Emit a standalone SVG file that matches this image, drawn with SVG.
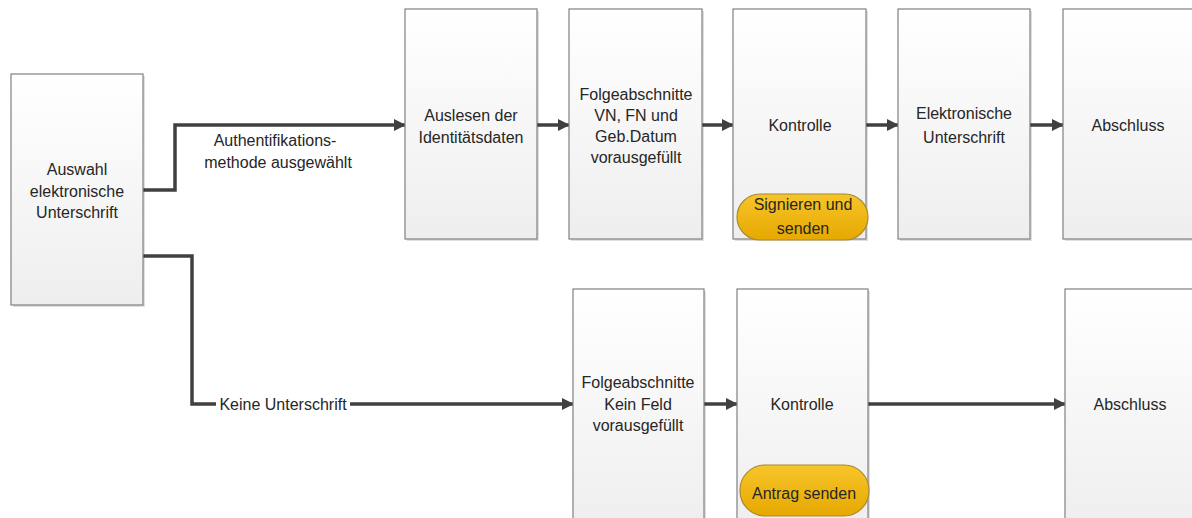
<svg xmlns="http://www.w3.org/2000/svg" width="1192" height="518" viewBox="0 0 1192 518">
<style>
.box{fill:url(#gBox);stroke:#808080;stroke-width:1.2}
.sh{fill:#000;opacity:0.12}
.pill{fill:url(#gGold);stroke:#a88a30;stroke-width:1.2}
.t{font-family:"Liberation Sans",Arial,sans-serif;font-size:16px;fill:#262626;text-anchor:middle}
.c{fill:none;stroke:#404040;stroke-width:3.5}
</style>
<defs>
<linearGradient id="gBox" x1="0" y1="0" x2="0" y2="1">
<stop offset="0" stop-color="#ffffff"/>
<stop offset="1" stop-color="#eeeeee"/>
</linearGradient>
<linearGradient id="gGold" x1="0" y1="0" x2="0" y2="1">
<stop offset="0" stop-color="#f7c52a"/>
<stop offset="1" stop-color="#e6a800"/>
</linearGradient>
<marker id="ah" viewBox="0 0 12 12" refX="11" refY="6" markerWidth="12" markerHeight="12" markerUnits="userSpaceOnUse" orient="auto">
<path d="M0,0 L12,6 L0,12 Z" fill="#404040"/>
</marker>
</defs>
<rect width="1192" height="518" fill="#ffffff"/>

<g id="connectors">
<polyline class="c" points="143,190 175,190 175,125 405,125" marker-end="url(#ah)"/>
<polyline class="c" points="143,256 192,256 192,404 573,404" marker-end="url(#ah)"/>
<line class="c" x1="537" y1="125" x2="569" y2="125" marker-end="url(#ah)"/>
<line class="c" x1="702" y1="125" x2="733" y2="125" marker-end="url(#ah)"/>
<line class="c" x1="866" y1="125" x2="898" y2="125" marker-end="url(#ah)"/>
<line class="c" x1="1030" y1="125" x2="1063" y2="125" marker-end="url(#ah)"/>
<line class="c" x1="704" y1="404" x2="737" y2="404" marker-end="url(#ah)"/>
<line class="c" x1="868" y1="404" x2="1065" y2="404" marker-end="url(#ah)"/>
<text class="t" x="275" y="146">Authentifikations-</text>
<text class="t" x="278" y="168">methode ausgewählt</text>
<rect x="216" y="394" width="134" height="20" fill="#ffffff"/>
<text class="t" x="283" y="410">Keine Unterschrift</text>
</g>

<g id="n-auswahl">
<rect class="sh" x="13" y="76" width="132" height="231"/>
<rect class="box" x="11" y="74" width="132" height="231"/>
<text class="t" x="77" y="175">Auswahl</text>
<text class="t" x="77" y="197">elektronische</text>
<text class="t" x="77" y="218">Unterschrift</text>
</g>

<g id="n-auslesen">
<rect class="sh" x="407" y="11" width="132" height="230"/>
<rect class="box" x="405" y="9" width="132" height="230"/>
<text class="t" x="471" y="121">Auslesen der</text>
<text class="t" x="471" y="143">Identitätsdaten</text>
</g>

<g id="n-folge1">
<rect class="sh" x="571" y="11" width="133" height="230"/>
<rect class="box" x="569" y="9" width="133" height="230"/>
<text class="t" x="636" y="100">Folgeabschnitte</text>
<text class="t" x="636" y="121">VN, FN und</text>
<text class="t" x="636" y="142">Geb.Datum</text>
<text class="t" x="636" y="163">vorausgefüllt</text>
</g>

<g id="n-kontrolle1">
<rect class="sh" x="735" y="11" width="133" height="230"/>
<rect class="box" x="733" y="9" width="133" height="230"/>
<text class="t" x="800" y="131">Kontrolle</text>
</g>

<g id="n-signieren">
<rect class="pill" x="737" y="194" width="131" height="46" rx="23" ry="23"/>
<text class="t" x="803" y="210">Signieren und</text>
<text class="t" x="803" y="234">senden</text>
</g>

<g id="n-elektronisch">
<rect class="sh" x="900" y="11" width="132" height="230"/>
<rect class="box" x="898" y="9" width="132" height="230"/>
<text class="t" x="964" y="119">Elektronische</text>
<text class="t" x="964" y="143">Unterschrift</text>
</g>

<g id="n-abschluss1">
<rect class="sh" x="1065" y="11" width="140" height="230"/>
<rect class="box" x="1063" y="9" width="140" height="230"/>
<text class="t" x="1128" y="131">Abschluss</text>
</g>

<g id="n-folge2">
<rect class="sh" x="575" y="291" width="131" height="240"/>
<rect class="box" x="573" y="289" width="131" height="240"/>
<text class="t" x="638" y="388">Folgeabschnitte</text>
<text class="t" x="638" y="410">Kein Feld</text>
<text class="t" x="638" y="431">vorausgefüllt</text>
</g>

<g id="n-kontrolle2">
<rect class="sh" x="739" y="291" width="131" height="240"/>
<rect class="box" x="737" y="289" width="131" height="240"/>
<text class="t" x="802" y="410">Kontrolle</text>
</g>

<g id="n-antrag">
<rect class="pill" x="740" y="465" width="129" height="51" rx="25" ry="25"/>
<text class="t" x="804" y="499">Antrag senden</text>
</g>

<g id="n-abschluss2">
<rect class="sh" x="1067" y="291" width="140" height="240"/>
<rect class="box" x="1065" y="289" width="140" height="240"/>
<text class="t" x="1130" y="410">Abschluss</text>
</g>
</svg>
